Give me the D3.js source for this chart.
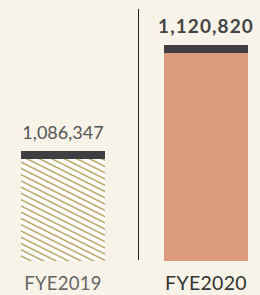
<!DOCTYPE html>
<html><head><meta charset="utf-8">
<script src="https://cdn.jsdelivr.net/npm/d3@7"></script>
<style>html,body{margin:0;padding:0;background:#f7f3e8;}svg{display:block;}</style>
</head><body>
<script>
const categories = ["FYE2019", "FYE2020"];
const values = [1086347, 1120820];
const valueLabels = ["1,086,347", "1,120,820"];

const W = 260, H = 295;
const svg = d3.select("body").append("svg").attr("width", W).attr("height", H);
svg.append("rect").attr("width", W).attr("height", H).attr("fill", "#f7f3e8");

const defs = svg.append("defs");
const pat = defs.append("pattern").attr("id", "hatch").attr("patternUnits", "userSpaceOnUse")
  .attr("width", 10).attr("height", 5.6).attr("patternTransform", "rotate(26.57)");
pat.append("rect").attr("width", 10).attr("height", 5.6).attr("fill", "#ffffff");
pat.append("line").attr("x1", 0).attr("x2", 10).attr("y1", 1.2).attr("y2", 1.2)
  .attr("stroke", "#b09c55").attr("stroke-width", 1.4);

const x = d3.scaleOrdinal().domain(categories).range([21, 164]);
const bw = 84;
const y = d3.scaleLinear().domain([1050573, 1120820]).range([261, 45]);
const capH = 8;
const font = "Lato, 'Noto Sans', sans-serif";

const g = svg.append("g");
categories.forEach((c, i) => {
  const x0 = x(c);
  const yt = y(values[i]);
  g.append("rect").attr("x", x0).attr("y", yt + capH).attr("width", bw)
    .attr("height", y.range()[0] - yt - capH)
    .attr("fill", i === 0 ? "url(#hatch)" : "#dc9a7c");
  g.append("rect").attr("x", x0).attr("y", yt).attr("width", bw).attr("height", capH).attr("fill", "#3f3f41");
  g.append("text").attr("x", x0 + bw / 2).attr("y", yt - 12).attr("text-anchor", "middle")
    .attr("font-family", font).attr("font-size", i === 0 ? 18 : 19)
    .attr("letter-spacing", i === 0 ? 0 : 1.1)
    .attr("font-weight", i === 0 ? 400 : 700).attr("fill", i === 0 ? "#555555" : "#444444")
    .text(valueLabels[i]);
  g.append("text").attr("x", x0 + bw / 2).attr("y", 290).attr("text-anchor", "middle")
    .attr("font-family", font).attr("font-size", i === 0 ? 18.5 : 19.5)
    .attr("letter-spacing", 0.3)
    .attr("font-weight", 400).attr("fill", i === 0 ? "#666666" : "#333333")
    .text(c);
});

svg.append("line").attr("x1", 138.5).attr("x2", 138.5).attr("y1", 9).attr("y2", 260)
  .attr("stroke", "#222222").attr("stroke-width", 1);
</script>
</body></html>
